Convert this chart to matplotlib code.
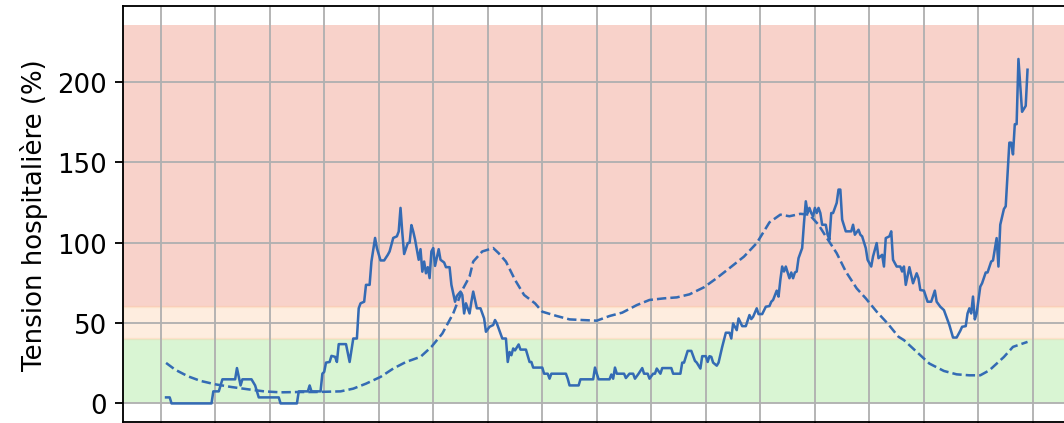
import matplotlib
matplotlib.use('Agg')
import matplotlib.pyplot as plt
from matplotlib.ticker import MultipleLocator

# daily hospital tension (%), day index from start of series
days = [3, 5, 6, 28, 29, 32, 34, 41, 42, 44, 45, 50, 52, 54, 65, 66, 75, 76, 81, 82,
        83, 88, 89, 90, 91, 93, 94, 96, 97, 98, 102, 104, 106, 108, 109, 110, 112, 113, 115, 116,
        118, 119, 121, 123, 125, 126, 128, 130, 131, 132, 133, 134, 136, 137, 138, 139, 140, 142, 143, 144,
        145, 146, 147, 148, 149, 150, 151, 153, 154, 156, 157, 159, 160, 162, 163, 165, 166, 167, 168, 170,
        171, 172, 174, 176, 178, 179, 181, 183, 184, 185, 187, 188, 190, 191, 192, 193, 194, 195, 197, 198,
        201, 203, 204, 205, 210, 211, 213, 214, 215, 223, 224, 225, 230, 231, 238, 239, 240, 241, 247, 248,
        249, 250, 251, 255, 256, 258, 260, 261, 263, 265, 266, 268, 269, 271, 272, 273, 275, 276, 281, 282,
        286, 287, 288, 290, 292, 294, 295, 297, 298, 300, 301, 302, 303, 304, 306, 307, 309, 311, 313, 314,
        315, 317, 318, 320, 322, 324, 325, 326, 328, 329, 331, 333, 335, 336, 337, 339, 340, 341, 342, 343,
        344, 346, 347, 348, 349, 350, 351, 353, 354, 355, 356, 357, 358, 359, 360, 361, 362, 363, 364, 366,
        367, 368, 369, 370, 372, 373, 374, 375, 377, 380, 381, 382, 384, 385, 386, 388, 389, 391, 392, 394,
        395, 397, 398, 399, 401, 402, 403, 405, 407, 408, 409, 410, 412, 414, 416, 417, 418, 420, 422, 424,
        426, 427, 429, 431, 433, 434, 436, 438, 440, 441, 443, 444, 445, 446, 447, 448, 449, 451, 452, 454,
        455, 457, 458, 460, 461, 462, 464, 465, 467, 468, 469, 470, 471, 472, 473, 474, 476, 477]
tension = [3.75, 3.75, 0, 0, 7.5, 7.5, 15, 15, 22, 11.2, 15, 15, 11.2, 3.75, 3.75, 0, 0, 7.5, 7.5, 11.2,
           7.5, 7.5, 18.5, 19.6, 25.4, 25.8, 29.6, 29, 25.8, 36.9, 36.9, 25.8, 40.4, 40.4, 59.2, 62.3, 63.3, 73.8, 73.8, 88.3,
           103, 96.7, 89, 89, 92.5, 94.6, 103, 104, 107, 121.7, 106, 93, 99.8, 100, 111, 107, 102, 89.4, 96, 82,
           88.3, 81, 84.8, 78, 94.6, 96.7, 85.6, 96, 89.4, 87.7, 84.8, 84.8, 73.8, 63.3, 66.9, 69.6, 67.5, 56, 62.3, 56,
           63.3, 69.6, 59.2, 59.2, 52.9, 44.6, 47.7, 48.8, 51.9, 49.8, 43.5, 40.4, 40.4, 25.8, 32, 30, 34.2, 33, 36.7, 33.5,
           33.5, 25.8, 25.8, 22.3, 22.3, 18.5, 18.5, 15.4, 18.5, 18.5, 15.4, 11.2, 11.2, 15, 15, 22.3, 18.5, 15, 15, 18,
           15.4, 22.3, 18.5, 18.5, 15.8, 18.5, 18.5, 15.4, 18.5, 22, 18.5, 18.5, 15.4, 18.5, 18.5, 21.7, 18.5, 22, 22, 18.5,
           18.5, 25.4, 25.4, 32.7, 32.7, 26.5, 25.4, 21.7, 29.4, 29.4, 25.8, 29.4, 29, 25.4, 23.5, 25.4, 35.2, 44, 44, 40.4,
           49.8, 45.6, 52.9, 48.1, 48.1, 55, 52.5, 53.9, 59.2, 55.6, 55.6, 60.2, 60.6, 63.3, 64.4, 70.2, 66.5, 76.9, 85.2, 82.1,
           85.2, 77.9, 81.5, 77.9, 81.5, 82.1, 90.4, 96.7, 112.3, 125.8, 118.5, 121.7, 118.5, 116.5, 121.7, 118.5, 121.7, 118.5, 111.2, 111.2,
           105, 101.9, 118.5, 118.5, 124.8, 133.1, 133.1, 114.4, 107.1, 107.1, 111.2, 105, 108.1, 105, 104, 96.7, 89.4, 85.2, 91.5, 99.8,
           90.4, 92.5, 85.2, 102.9, 104, 107.1, 89.4, 85.2, 85.2, 82.1, 85.2, 73.8, 84.8, 74.8, 81, 77.9, 70.6, 70.2, 63.3, 63.3,
           70.2, 63.3, 60.2, 58.1, 51.9, 48.8, 41, 41, 45.2, 47.7, 48.1, 56, 59.2, 56, 66.5, 52.3, 56, 72.7, 74.8, 81.5,
           81.5, 88.3, 89, 102.9, 85.2, 111.2, 121, 122.7, 162.3, 162.3, 155, 173.8, 173.8, 214.4, 197.7, 181.5, 185.2, 207.7]

# same indicator one year earlier (dashed)
days_prev = [3, 8, 15, 22, 30, 39, 48, 57, 66, 76, 85, 99, 106, 113, 121, 128, 135, 143, 149, 155,
             161, 166, 170, 172, 177, 183, 186, 190, 195, 200, 206, 210, 218, 225, 232, 240, 247, 254, 262, 269,
             277, 284, 291, 299, 306, 313, 321, 328, 335, 341, 346, 352, 357, 362, 366, 372, 377, 383, 388, 394,
             400, 406, 409, 416, 423, 431, 438, 445, 451, 456, 464, 469, 477]
tension_prev = [25.2, 21, 16.9, 14, 11.9, 10.2, 8.8, 7.5, 6.9, 7.1, 7.1, 7.5, 9.2, 12.3, 16.5, 21.7, 25.8, 29, 35.2, 43.5,
                56, 70.6, 79, 88.3, 94.6, 96.7, 93.5, 88.3, 76.9, 67.5, 62.3, 57.1, 54.4, 52.3, 51.9, 51.5, 54.4, 56.5, 61.2, 64.4,
                65.4, 66, 67.9, 72.3, 78, 84.2, 91.4, 99.8, 112.7, 117.5, 116.5, 118, 117.5, 111.2, 104, 93.5, 82.1, 71.6, 65.4, 57.1,
                49.8, 41.5, 39.4, 32.1, 24.8, 20.2, 18.1, 17.5, 17.5, 20.6, 28.9, 35.2, 38.3]

thresholds = [0, 40, 60]

DPI = 166
plt.rcParams['font.size'] = 11.3
fig = plt.figure(figsize=(1064 / DPI, 424 / DPI), dpi=DPI)
ax = fig.add_axes([0.1156, 0.0015, 0.8906, 0.983])

top = max(tension) * 1.1
ax.axhspan(thresholds[0], thresholds[1], facecolor='#84de70', alpha=0.3, lw=0)
ax.axhspan(thresholds[2], top, facecolor='#e86c52', alpha=0.3, lw=0)
ax.axhspan(thresholds[1], thresholds[2], facecolor='#fcc698', edgecolor='#fcc698', alpha=0.3, lw=1)

line_color = '#346bb4'
ax.plot(days, tension, color=line_color, lw=1.1)
ax.plot(days_prev, tension_prev, color=line_color, lw=1.1, ls='--')

ax.xaxis.set_major_locator(MultipleLocator(30))
ax.yaxis.set_major_locator(MultipleLocator(50))
ax.tick_params(axis='x', labelbottom=False)
ax.grid(True)
ax.set_ylabel('Tension hospitalière (%)')

fig.savefig('out.png', dpi=DPI)
